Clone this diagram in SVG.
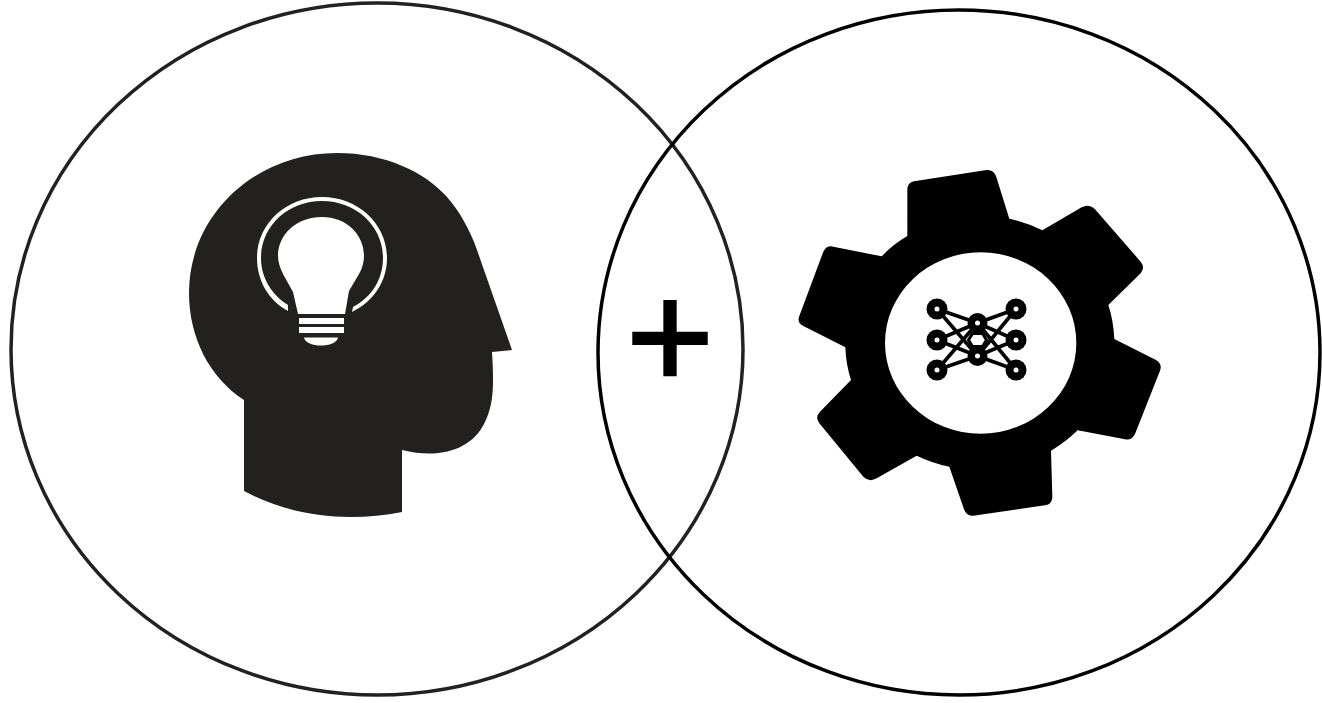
<svg xmlns="http://www.w3.org/2000/svg" width="1322" height="703" viewBox="0 0 1322 703">
<style>
.ring{fill:none;stroke-width:3.5}
.ink{fill:#222120}
.white{fill:#fff}
.net line{stroke:#000;stroke-width:3.6}
.net circle.o{fill:#000}
.net circle.i{fill:#fff}
</style>
<rect width="1322" height="703" fill="#fff"/>
<g id="head">
<path class="ink" d="M337 153C385 153 425 172 447 197C460 212 470 230 477 250L512 350L492 352C494 385 494 405 484 424C472 448 442 460 402 450L402 512C350 522 295 518 244 491L244 400C210 378 189 338 189 293C189 215 255 153 337 153Z"/>
<g id="bulb">
<path class="white" d="M288 311C268 300 257 280 257 258C257 224 286 197 322 197C358 197 387 224 387 258C387 281 374 301 352 312L353 307C372 297 383 279 383 258C383 226 356 201 322 201C288 201 261 226 261 258C261 278 272 295 288 305Z"/>
<path class="white" d="M298 314L293 292L283 274C280 268 278 262 278 256C278 234 297 217 322 217C346 217 364 234 364 256C364 262 362 269 359 274L349 291L345 314Z"/>
<rect class="white" x="299" y="318" width="45" height="6"/>
<rect class="white" x="299" y="327" width="45" height="6"/>
<path class="white" d="M304 337.500L338 337.500C337 343 329 345.500 321 345.500C313 345.500 305 343 304 337.500Z"/>
</g>
</g>
<g id="gear" transform="translate(790 160) scale(.33333)">
<path fill="#000" fill-rule="evenodd" d="M352 228L352 90Q352 68 372 64L590 30Q610 28 618 48L658 176Q710 188 757 211L875 142Q897 130 915 148L1052 305Q1066 322 1052 340L955 435Q970 480 973 537L1098 600Q1118 612 1110 632L1035 822Q1025 842 1005 838L863 811Q825 848 783 872L787 1010Q787 1032 765 1036L550 1067Q530 1070 522 1048L478 920Q428 910 380 887L260 955Q238 968 220 950L88 790Q74 772 90 755L183 660Q168 615 166 562L40 498Q20 488 28 468L100 275Q110 255 130 260L275 289Q310 252 352 228ZM572 277A287 272 0 1 0 572 821A287 272 0 1 0 572 277Z"/>
</g>
<g id="network" class="net">
<line x1="937" y1="309" x2="977.500" y2="323"/><line x1="937" y1="309" x2="977.500" y2="356"/>
<line x1="937" y1="340" x2="977.500" y2="323"/><line x1="937" y1="340" x2="977.500" y2="356"/>
<line x1="937" y1="370" x2="977.500" y2="323"/><line x1="937" y1="370" x2="977.500" y2="356"/>
<line x1="1016" y1="309" x2="977.500" y2="323"/><line x1="1016" y1="309" x2="977.500" y2="356"/>
<line x1="1016" y1="340" x2="977.500" y2="323"/><line x1="1016" y1="340" x2="977.500" y2="356"/>
<line x1="1016" y1="370" x2="977.500" y2="323"/><line x1="1016" y1="370" x2="977.500" y2="356"/>
<path d="M968.500 340L972.500 333.500H982.500L986.500 340L982.500 346.500H972.500Z" fill="#fff" stroke="#000" stroke-width="3"/>
<circle class="o" cx="937" cy="309" r="10.500"/><circle class="i" cx="937" cy="309" r="2.500"/>
<circle class="o" cx="937" cy="340" r="10.500"/><circle class="i" cx="937" cy="340" r="2.500"/>
<circle class="o" cx="937" cy="370" r="10.500"/><circle class="i" cx="937" cy="370" r="2.500"/>
<circle class="o" cx="1016" cy="309" r="10.500"/><circle class="i" cx="1016" cy="309" r="2.500"/>
<circle class="o" cx="1016" cy="340" r="10.500"/><circle class="i" cx="1016" cy="340" r="2.500"/>
<circle class="o" cx="1016" cy="370" r="10.500"/><circle class="i" cx="1016" cy="370" r="2.500"/>
<circle class="o" cx="977.500" cy="323" r="10"/><circle class="i" cx="977.500" cy="323" r="2.500"/>
<circle class="o" cx="977.500" cy="356" r="10"/><circle class="i" cx="977.500" cy="356" r="2.500"/>
</g>
<g id="connectors">
<ellipse class="ring" cx="377" cy="349" rx="366" ry="346" stroke="#222120"/>
<ellipse class="ring" cx="959" cy="352.500" rx="361" ry="342.500" stroke="#000"/>
</g>
<text id="plus" x="670" y="388" text-anchor="middle" font-family="Liberation Sans, Arial, sans-serif" font-size="150" fill="#000" stroke="#000" stroke-width="2.600">+</text>
</svg>
